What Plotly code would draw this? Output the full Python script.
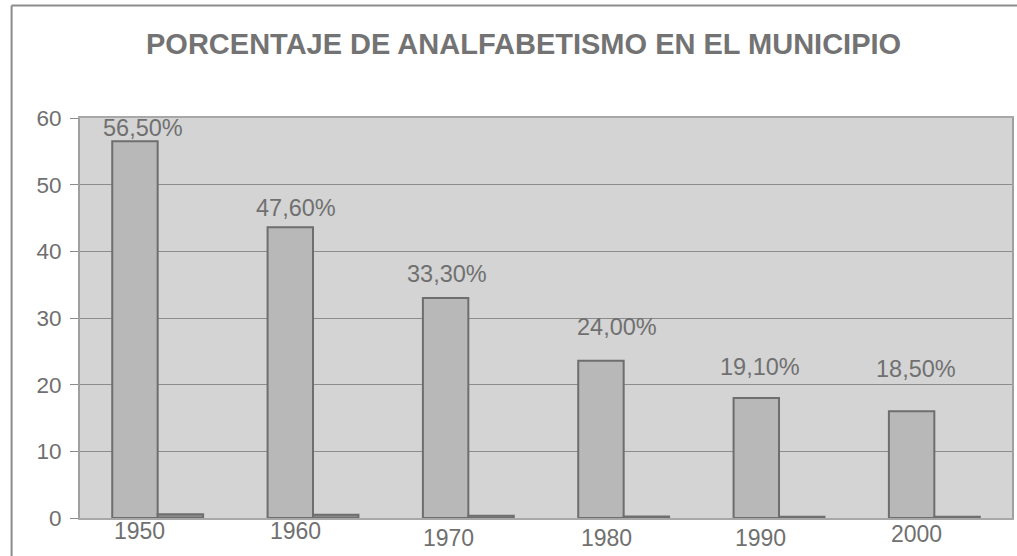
import plotly.graph_objects as go

# ---- data ----
years = ["1950", "1960", "1970", "1980", "1990", "2000"]
bar_values = [56.5, 43.6, 33.0, 23.6, 18.0, 16.0]
small_values = [0.565, 0.476, 0.333, 0.24, 0.191, 0.185]
value_labels = ["56,50%", "47,60%", "33,30%", "24,00%", "19,10%", "18,50%"]
title_text = "PORCENTAJE DE ANALFABETISMO EN EL MUNICIPIO"

# ---- layout helpers (positions / styles) ----
label_y = [58.7, 46.6, 36.8, 28.8, 22.8, 22.45]
label_xshift = [-15, -17, -21, -7, -19, -18]
tick_xshift = [-18, -18, -20, -17, -19, -18]
tick_yshift = [-12, -12, -19, -19, -19, -15]

TEXT = "#707070"
OUT = "#6e6e6e"
FONT = "Liberation Sans, Arial, sans-serif"

fig = go.Figure()
fig.add_trace(go.Bar(x=years, y=bar_values, marker=dict(color="#b8b8b8", line=dict(color=OUT, width=2)),
                     hoverinfo="skip"))
fig.add_trace(go.Bar(x=years, y=small_values, marker=dict(color="#8a8a8a", line=dict(color=OUT, width=2)),
                     hoverinfo="skip"))

annotations = []
for i, (txt, ly, xs) in enumerate(zip(value_labels, label_y, label_xshift)):
    annotations.append(dict(x=i, y=ly, xref="x", yref="y", text=txt, showarrow=False,
                            xshift=xs, yshift=-1, font=dict(family=FONT, size=23.5, color=TEXT)))
for i, (yr, xs, ys) in enumerate(zip(years, tick_xshift, tick_yshift)):
    annotations.append(dict(x=i, y=0, xref="x", yref="paper", text=yr, showarrow=False,
                            xshift=xs, yshift=ys - 1, yanchor="middle",
                            font=dict(family=FONT, size=23, color=TEXT)))
annotations.append(dict(x=0.476, y=1.185, xref="paper", yref="paper", text="<b>" + title_text + "</b>",
                        showarrow=False, xanchor="center", yanchor="middle",
                        font=dict(family=FONT, size=29, color="#737373")))

shapes = [
    dict(type="line", xref="paper", yref="paper", x0=-0.0734, x1=-0.0734, y0=-0.2, y1=1.2813,
         line=dict(color="#8c8c8c", width=2)),
    dict(type="line", xref="paper", yref="paper", x0=-0.0734, x1=1.01, y0=1.2813, y1=1.2813,
         line=dict(color="#8c8c8c", width=2)),
]

fig.update_layout(
    width=1017, height=556,
    margin=dict(l=80, r=3, t=118, b=38),
    paper_bgcolor="white", plot_bgcolor="#d4d4d4",
    showlegend=False,
    barmode="group", bargap=0.415, bargroupgap=0,
    annotations=annotations, shapes=shapes,
    xaxis=dict(type="category", range=[-0.5, len(years) - 0.5], showticklabels=False, ticks="",
               showgrid=False, showline=True, linecolor="#a8a8a8", linewidth=2, mirror=True,
               fixedrange=True),
    yaxis=dict(range=[0, 60], dtick=10, showgrid=True, gridcolor="#8c8c8c", gridwidth=1,
               ticks="outside", ticklen=8, tickcolor="#8c8c8c", showline=True, linecolor="#a0a0a0",
               linewidth=2, mirror=True, zeroline=False, ticklabelstandoff=4,
               tickfont=dict(family=FONT, size=22.5, color=TEXT), fixedrange=True),
)

fig.write_html("out.html", config={"displayModeBar": False},
               post_script="document.body.style.margin='0';document.body.style.overflow='hidden';")
